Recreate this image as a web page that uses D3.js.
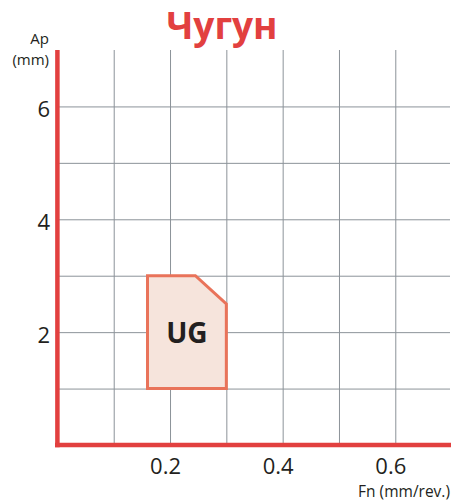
<!DOCTYPE html>
<html>
<head>
<meta charset="utf-8">
<script src="https://cdn.jsdelivr.net/npm/d3@7/dist/d3.min.js"></script>
<style>
  html, body { margin: 0; padding: 0; background: #fff; }
  svg { display: block; }
  text { font-family: "Open Sans", "Noto Sans", sans-serif; }
</style>
</head>
<body>
<svg id="chart" width="451" height="503"></svg>
<script>
// Cutting-range chart: feed (Fn) vs depth of cut (Ap)
const title = "Чугун";
const xTickValues = [0.2, 0.4, 0.6];
const yTickValues = [2, 4, 6];
const xGridValues = [0.1, 0.2, 0.3, 0.4, 0.5, 0.6];
const yGridValues = [1, 2, 3, 4, 5, 6];
// Outline of the UG region: [feed, depth]
const regionFn = [0.16, 0.16, 0.245, 0.30, 0.30];
const regionAp = [1.0, 3.0, 3.0, 2.5, 1.0];
const regionLabel = "UG";
const regionLabelAt = [0.23, 2.0];

const red = "#e2403f";
const gridColor = "#8c9399";

const svg = d3.select("#chart");
const x = d3.scaleLinear().domain([0, 0.7]).range([57.4, 451.6]);
const y = d3.scaleLinear().domain([0, 7]).range([445, 50]);

// grid
svg.append("g")
  .attr("transform", `translate(0,${y(0)})`)
  .call(d3.axisBottom(x).tickValues(xGridValues).tickSize(-(y(0) - y(7))).tickFormat(""))
  .call(g => g.select(".domain").remove())
  .call(g => g.selectAll("line").attr("stroke", gridColor).attr("stroke-width", 1));

svg.append("g")
  .attr("transform", `translate(${x(0)},0)`)
  .call(d3.axisLeft(y).tickValues(yGridValues).tickSize(-(450 - x(0))).tickFormat(""))
  .call(g => g.select(".domain").remove())
  .call(g => g.selectAll("line").attr("stroke", gridColor).attr("stroke-width", 1));

// region polygon
const pts = regionFn.map((f, i) => [x(f), y(regionAp[i])]);
svg.append("path")
  .attr("d", d3.line()(pts) + "Z")
  .attr("fill", "#f6e4dc")
  .attr("stroke", "#e9735a")
  .attr("stroke-width", 3)
  .attr("stroke-linejoin", "miter");

svg.append("text")
  .attr("x", x(regionLabelAt[0]))
  .attr("y", y(regionLabelAt[1]))
  .attr("text-anchor", "middle")
  .attr("dominant-baseline", "central")
  .attr("font-size", 28)
  .attr("font-weight", 700)
  .attr("fill", "#231f20")
  .text(regionLabel);

// axis lines
svg.append("line")
  .attr("x1", x(0) - 2.4).attr("x2", 451)
  .attr("y1", y(0)).attr("y2", y(0))
  .attr("stroke", red).attr("stroke-width", 4.5);
svg.append("line")
  .attr("x1", x(0)).attr("x2", x(0))
  .attr("y1", y(7)).attr("y2", y(0) + 2.2)
  .attr("stroke", red).attr("stroke-width", 4.5);

// tick labels
svg.append("g")
  .attr("transform", `translate(0,${y(0)})`)
  .call(d3.axisBottom(x).tickValues(xTickValues).tickSize(0).tickPadding(0).tickFormat(d3.format(".1f")))
  .call(g => g.select(".domain").remove())
  .call(g => g.selectAll("text")
    .attr("dy", null).attr("y", 29)
    .attr("dx", -5)
    .attr("font-size", 22).attr("fill", "#231f20")
    .attr("font-family", "'Open Sans', sans-serif"));

svg.append("g")
  .attr("transform", `translate(50,0)`)
  .call(d3.axisLeft(y).tickValues(yTickValues).tickSize(0).tickPadding(0).tickFormat(d3.format("d")))
  .call(g => g.select(".domain").remove())
  .call(g => g.selectAll("text")
    .attr("dy", "0.45em")
    .attr("font-size", 22).attr("fill", "#231f20")
    .attr("font-family", "'Open Sans', sans-serif"));

// axis titles
svg.append("text")
  .attr("x", 49).attr("y", 44)
  .attr("text-anchor", "end")
  .attr("font-size", 15)
  .attr("fill", "#231f20")
  .text("Ap");
svg.append("text")
  .attr("x", 49).attr("y", 65)
  .attr("text-anchor", "end")
  .attr("font-size", 15)
  .attr("fill", "#231f20")
  .text("(mm)");

svg.append("text")
  .attr("x", 450).attr("y", 497)
  .attr("text-anchor", "end")
  .attr("font-size", 15.5)
  .attr("fill", "#231f20")
  .text("Fn (mm/rev.)");

// chart title
svg.append("text")
  .attr("x", 222).attr("y", 38.5)
  .attr("text-anchor", "middle")
  .attr("font-family", "'Liberation Sans', Arial, sans-serif")
  .attr("font-size", 37)
  .attr("font-weight", 700)
  .attr("fill", red)
  .text(title);
</script>
</body>
</html>
